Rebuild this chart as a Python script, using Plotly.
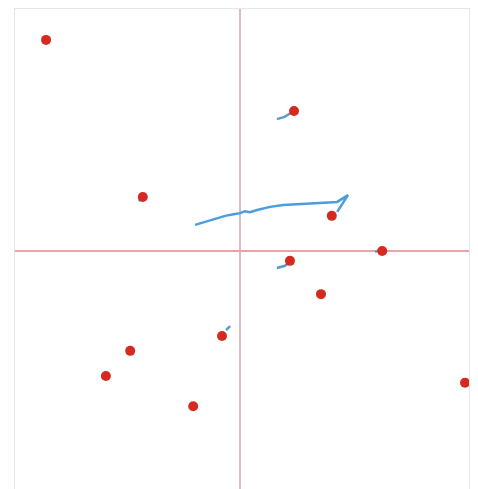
import plotly.graph_objects as go

# Red data points
pts_x = [-4.31, 1.20, -2.16, 2.04, 1.11, 3.16, 1.80, -0.40, -2.44, -2.98, -1.04, 5.00]
pts_y = [4.68, 3.10, 1.19, 0.77, -0.23, -0.01, -0.97, -1.90, -2.23, -2.79, -3.46, -2.94]

# Long blue trajectory
path_x = [-1.00, -0.78, -0.56, -0.33, -0.11, 0.00, 0.11, 0.22, 0.38, 0.67, 0.96, 1.33, 1.62, 2.16, 2.40, 2.16]
path_y = [0.57, 0.63, 0.70, 0.77, 0.81, 0.83, 0.87, 0.85, 0.90, 0.97, 1.01, 1.03, 1.06, 1.08, 1.23, 0.86]

# Short tails near points
tails = [
    ([0.82, 0.99, 1.12], [2.92, 2.97, 3.05]),
    ([0.82, 1.00, 1.09], [-0.39, -0.34, -0.26]),
    ([3.00, 3.10], [-0.03, 0.01]),
    ([-0.31, -0.22], [-1.77, -1.68]),
    ([-2.25, -2.18], [1.10, 1.16]),
]

fig = go.Figure()
fig.add_trace(go.Scatter(x=path_x, y=path_y, mode="lines",
                         line=dict(color="#4a9ede", width=2.5), hoverinfo="skip"))
for tx, ty in tails:
    fig.add_trace(go.Scatter(x=tx, y=ty, mode="lines",
                             line=dict(color="#5a9cc8", width=2.5), hoverinfo="skip"))
fig.add_trace(go.Scatter(x=pts_x, y=pts_y, mode="markers",
                         marker=dict(color="#d52a20", size=10, line=dict(width=0))))

fig.update_layout(
    width=470, height=481,
    margin=dict(l=7, r=9, t=1, b=0),
    paper_bgcolor="white", plot_bgcolor="white",
    showlegend=False,
    xaxis=dict(range=[-5.0, 5.089], showgrid=False, showticklabels=False, ticks="",
               zeroline=True, zerolinecolor="#dcbcc4", zerolinewidth=2,
               showline=True, mirror=True, linecolor="#e6e6e6", linewidth=1),
    yaxis=dict(range=[-5.3, 5.367], showgrid=False, showticklabels=False, ticks="",
               zeroline=True, zerolinecolor="#eba4a4", zerolinewidth=2,
               showline=True, mirror=True, linecolor="#e6e6e6", linewidth=1),
)
fig.write_html("out.html")
